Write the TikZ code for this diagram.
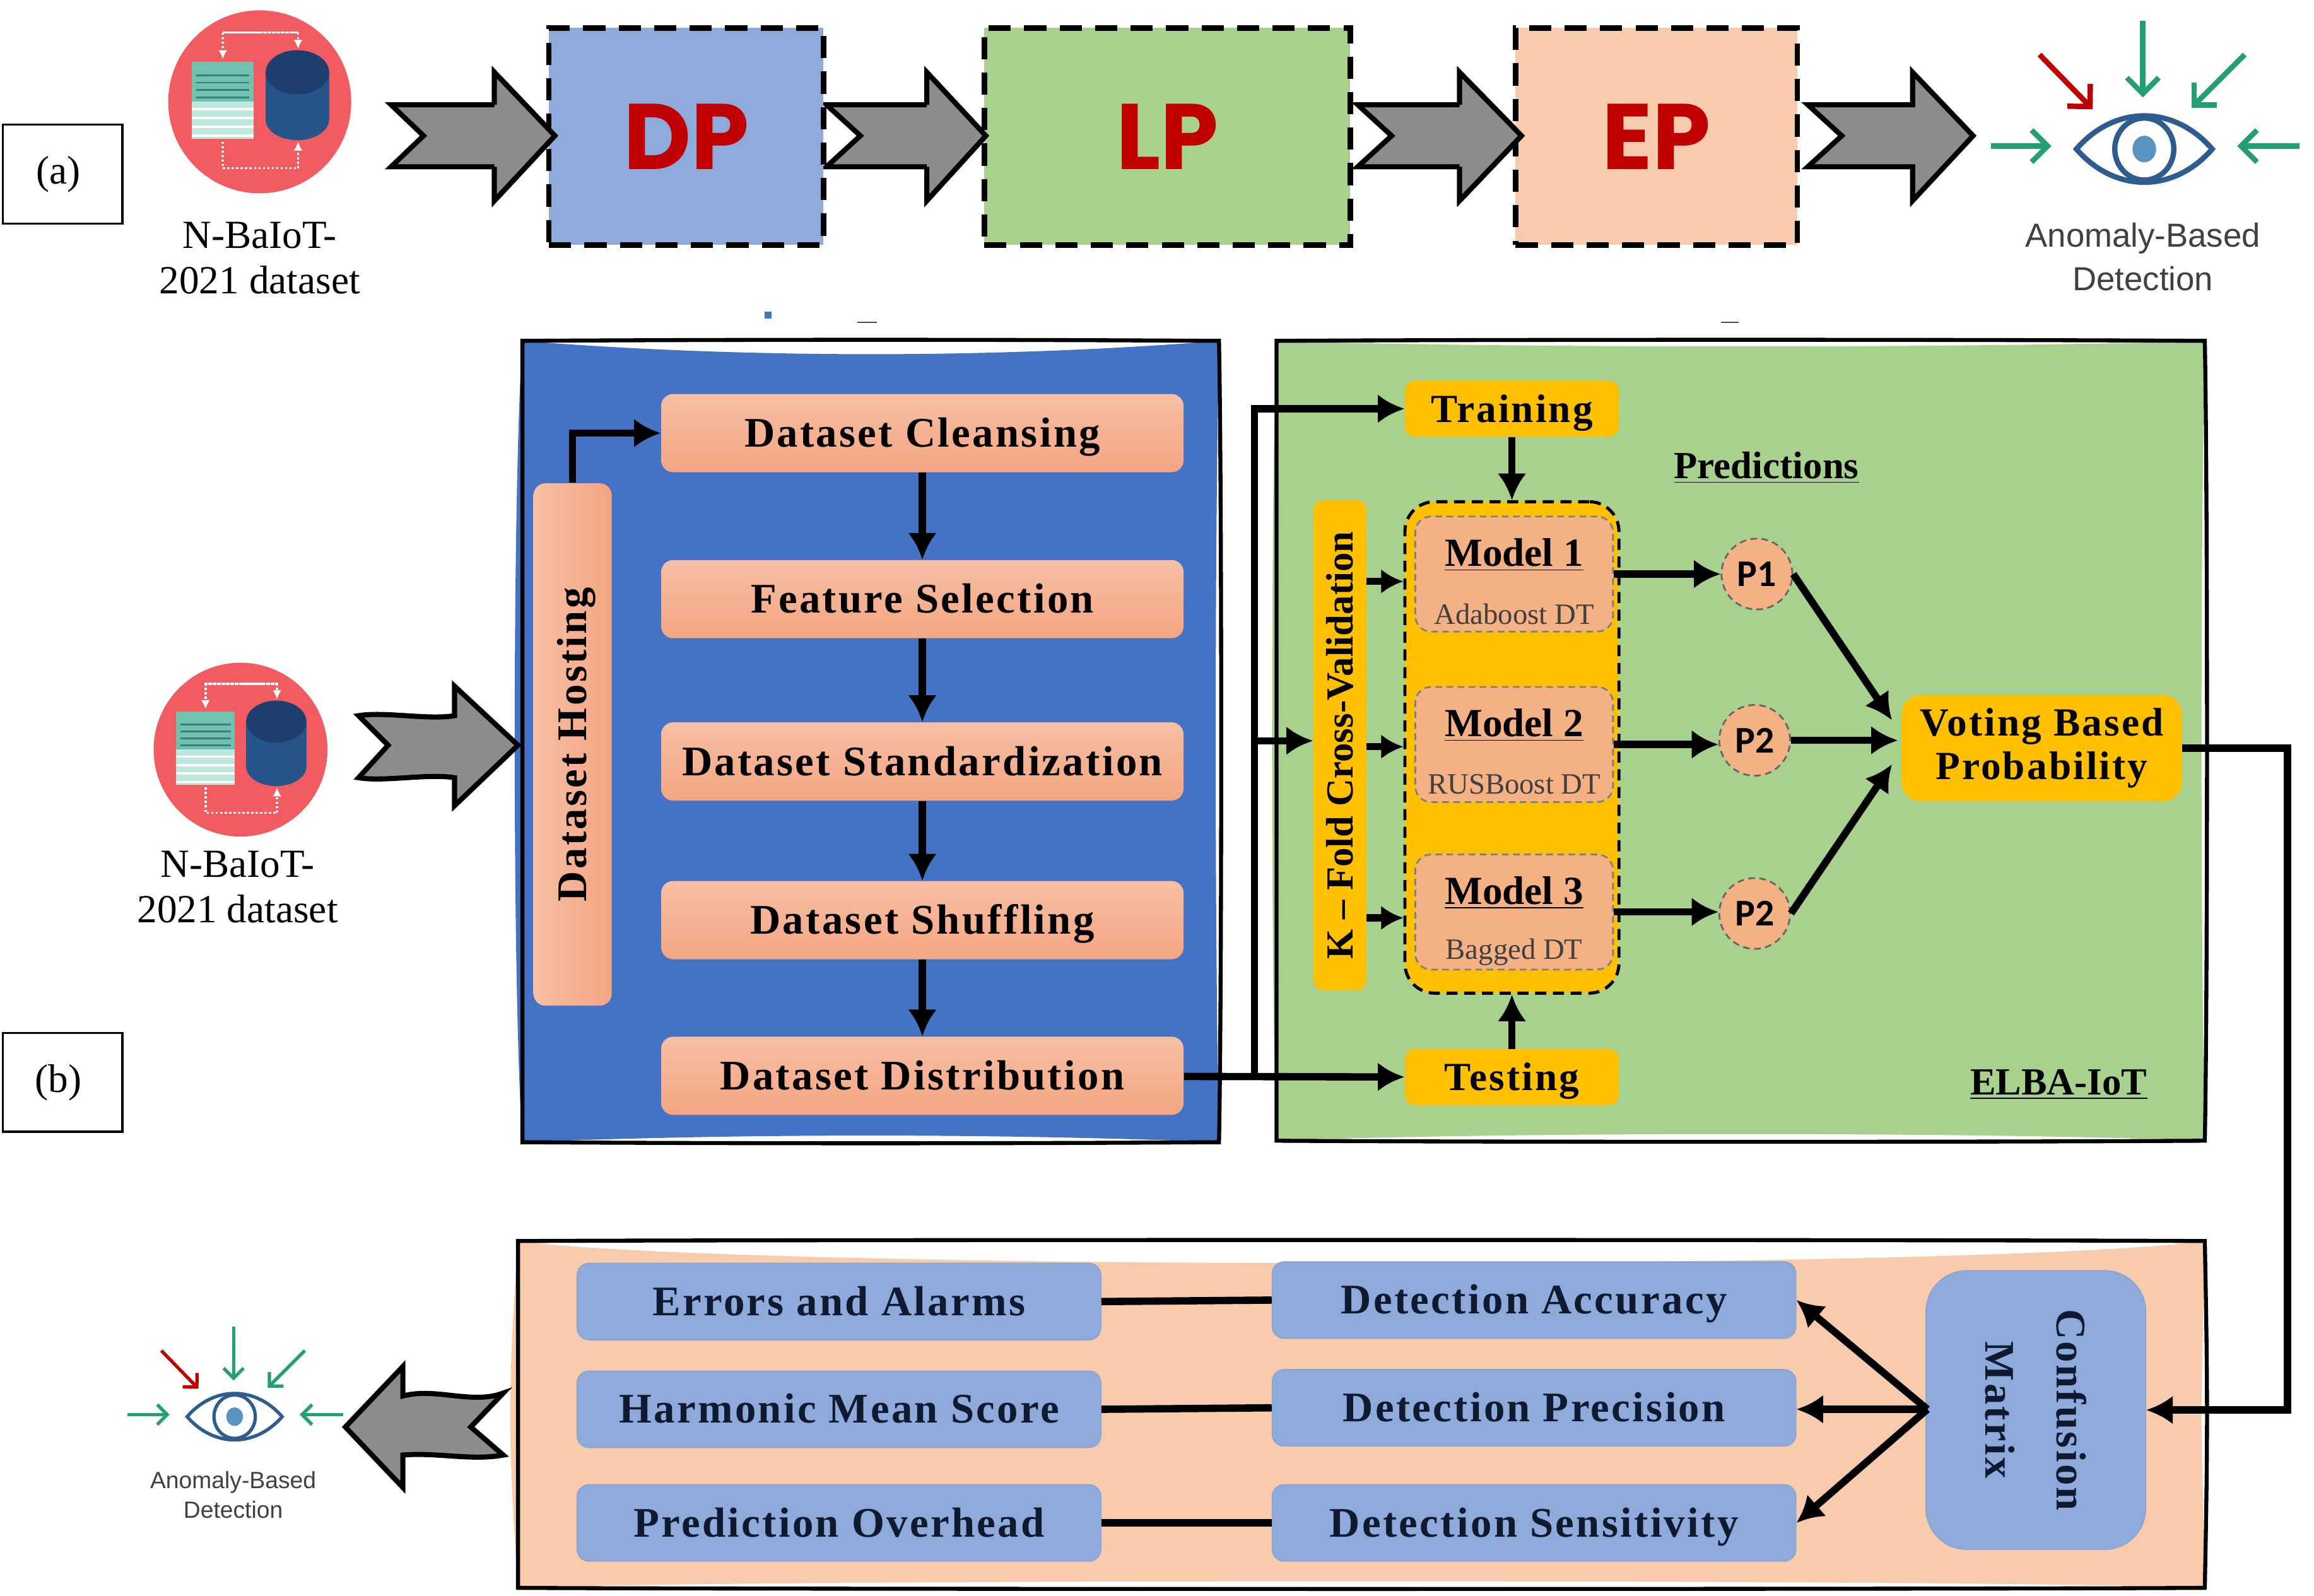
\documentclass[tikz,border=0pt]{standalone}
\usepackage{fontspec}
\usetikzlibrary{arrows.meta}
\setmainfont{Liberation Serif}
\newfontfamily\labelfont[LetterSpace=5]{Liberation Serif}
\newfontfamily\handfont{Poppins}
\newfontfamily\eyefont{Liberation Sans}
\newfontfamily\pfont{Carlito}
\newcommand{\boldlabel}{\labelfont\bfseries\fontsize{19}{21}\selectfont}
\newcommand{\smallbold}{\labelfont\bfseries\fontsize{18}{19.6}\selectfont}
\def\u{0.02339cm}
\definecolor{panelblue}{HTML}{4472C4}
\definecolor{panelgreen}{HTML}{A9D18E}
\definecolor{panelpeach}{HTML}{F8CBAD}
\definecolor{boxblue}{HTML}{8EAADB}
\definecolor{boxorange}{HTML}{FFC000}
\definecolor{boxpeach}{HTML}{F4B183}
\definecolor{lightsalmon}{HTML}{F6BFA3}
\definecolor{darksalmon}{HTML}{F4A582}
\definecolor{darkred}{HTML}{C00000}
\definecolor{eyeblue}{HTML}{2F5C8F}
\definecolor{eyepupil}{HTML}{5B93C0}
\definecolor{eyegreen}{HTML}{24A070}
\definecolor{discred}{HTML}{F25C60}
\definecolor{sheettop}{HTML}{6FC2AC}
\definecolor{sheetlow}{HTML}{BFE8DC}
\definecolor{sheetline}{HTML}{3D7A8A}
\definecolor{drum}{HTML}{24548A}
\definecolor{drumtop}{HTML}{1E3F6E}
\definecolor{navytext}{HTML}{0F1A30}
\tikzset{
	flow/.style={line width=3.3pt,-{Latex[length=12pt,width=13pt]}},
	plainflow/.style={line width=3.3pt},
	bigarrow/.style={draw=black,fill=black!45,line width=2.3pt,line join=miter},
	tag/.style={draw=black,line width=1pt,minimum width=81*\u,minimum height=67*\u,font=\fontsize{18}{20}\selectfont},
	stage/.style={draw=black,line width=2.4pt,dash pattern=on 10pt off 6pt,minimum height=147*\u,text=darkred,font=\handfont\bfseries\fontsize{42}{44}\selectfont},
	peachbox/.style={rounded corners=0.19cm,top color=lightsalmon,bottom color=darksalmon,minimum width=354*\u,minimum height=53*\u,text height=12.5pt,text depth=0pt,font=\boldlabel},
	bluebox/.style={rounded corners=0.19cm,fill=boxblue,draw=boxblue!85!gray,text=navytext,minimum width=355*\u,minimum height=52*\u,text height=12.5pt,text depth=0pt,font=\boldlabel},
	orangebox/.style={rounded corners=0.16cm,fill=boxorange,minimum width=145*\u,minimum height=38*\u,text height=12pt,text depth=0pt,font=\smallbold},
	modelbox/.style={rounded corners=0.25cm,fill=boxpeach,draw=black!50,densely dashed,line width=0.8pt,minimum width=134*\u,minimum height=78*\u},
	modelname/.style={font=\bfseries\fontsize{18}{20}\selectfont},
	modelkind/.style={text=black!75,font=\fontsize{13.3}{16}\selectfont},
	pbubble/.style={circle,fill=boxpeach,draw=black!60,densely dashed,line width=0.8pt,minimum size=48*\u,inner sep=0pt,font=\pfont\bfseries\fontsize{17}{19}\selectfont},
	under/.style={font=\bfseries\fontsize{17.3}{19}\selectfont},
	caption/.style={align=center,font=\fontsize{18}{20.5}\selectfont},
	eyecaption/.style={align=center,text=black!75,font=\eyefont\fontsize{15}{19.5}\selectfont},
	dataset/.pic={
		% red disc with sheet and drum
		\fill[discred] (0,0) circle (62);
		\draw[white,densely dotted,line width=1pt,-{Latex[length=4pt,width=4pt]}] (26,-47) -- (-25,-47) -- (-25,-29);
		\draw[white,densely dotted,line width=1pt,-{Latex[length=4pt,width=4pt]}] (-25,-47) -- (26,-47) -- (26,-36);
		\draw[white,densely dotted,line width=1pt] (-25,27) -- (-25,45) -- (26,45);
		\draw[white,densely dotted,line width=1pt,-{Latex[length=4pt,width=4pt]}] (26,45) -- (26,27);
		\fill[sheettop] (-46,-27) rectangle (-4,0);
		\fill[sheetlow] (-46,0) rectangle (-4,25);
		\foreach \y in {-18,-13,-8,-3}
			\draw[sheetline,line width=0.7pt] (-43,\y) -- (-7,\y);
		\foreach \y in {5,11,17,23}
			\draw[white,line width=1pt] (-46,\y) -- (-4,\y);
		\fill[drum] (4,-20) rectangle (47,12);
		\fill[drum] (25.5,12) ellipse (21.5 and 14);
		\fill[drumtop] (25.5,-20) ellipse (21.5 and 15);
	},
	eyeicon/.pic={
		% eye with five arrows pointing at it
		\draw[eyeblue,line width=#1pt] (-46,0) .. controls (-20,-30) and (20,-30) .. (46,0) .. controls (20,30) and (-20,30) .. (-46,0) -- cycle;
		\draw[eyeblue,line width=#1pt] (0,0) ellipse (20 and 21);
		\fill[eyepupil] (0,0) ellipse (8 and 9);
		\draw[darkred,line width=#1pt,-{Straight Barb[length=0pt 3,width=0pt 6]}] (-71,-64) -- (-35,-27);
		\foreach \sx/\sy/\ex/\ey in {-1/-87/-1/-35,68/-64/32/-28,-104/-2/-63/-2,105/-2/63/-2}
			\draw[eyegreen,line width=#1pt,-{Straight Barb[length=0pt 3,width=0pt 6]}] (\sx,\sy) -- (\ex,\ey);
	}
}
\begin{document}
\begin{tikzpicture}[x=\u,y=-\u]
\useasboundingbox (0,0) rectangle (1568,1081.5);

% draw panels behind everything
\foreach \c/\l/\t/\r/\b/\d/\e in {panelblue/354/231/826/774/12/7,panelgreen/865/231/1494/773/5/4,panelpeach/351/841/1494/1076/20/7}
{
	\fill[\c] (\l,\t) .. controls (\l+150,\t+\d) and (\r-150,\t+\d) .. (\r,\t)
		.. controls (\r-3,\t+150) and (\r-3,\b-150) .. (\r,\b)
		.. controls (\r-150,\b-6) and (\l+150,\b-6) .. (\l,\b)
		.. controls (\l-\e,\b-100) and (\l-\e,\t+100) .. (\l,\t) -- cycle;
	\draw[line width=1.8pt] (\l,\t) .. controls (\l+150,\t-1) and (\r-150,\t-1) .. (\r,\t)
		.. controls (\r+2,\t+100) and (\r+2,\b-100) .. (\r,\b)
		.. controls (\r-150,\b+1) and (\l+150,\b+1) .. (\l,\b) -- cycle;
}

% draw stray marks
\fill[panelblue] (518,211) rectangle (523,216);
\fill[black!70] (581,218) rectangle (594,219);
\fill[black!70] (1166,218) rectangle (1178,219);

% draw top row
\node[tag] (taga) at (42.5,118) {\hspace*{-4pt}\raisebox{-2pt}{(a)}};
\node[tag] (tagb) at (42.5,733.5) {\hspace*{-4pt}\raisebox{-2pt}{(b)}};
\pic at (176,69) {dataset};
\node[caption] (dataa) at (176,175) {N-BaIoT-\\2021 dataset};
\foreach \x/\n/\s/\t in {265/287/335/376,560/583/628/668,920/943/989/1031,1225/1248/1296/1337}
{
	\draw[bigarrow] (\x,71) -- (\s,71) -- (\s,49) -- (\t,92) -- (\s,136) -- (\s,113) -- (\x,113) -- (\n,92) -- cycle;
}
\node[stage,fill=boxblue,minimum width=186*\u] (dp) at (465,92.5) {DP};
\node[stage,fill=panelgreen,minimum width=248*\u] (lp) at (791,92.5) {LP};
\node[stage,fill=panelpeach,minimum width=191*\u] (ep) at (1122.5,92.5) {EP};
\foreach \x/\s/\t in {265/335/376,560/628/668,920/989/1031}
{
	\draw[bigarrow] (\s,71) -- (\s,49) -- (\t,92) -- (\s,136) -- (\s,113);
}
\pic at (1453,101) {eyeicon=2.4};
\node[eyecaption] (eyea) at (1452,174) {Anomaly-Based\\Detection};

% draw preparation panel
\pic[scale=0.95] at (163,508) {dataset};
\node[caption] (datab) at (161,601) {N-BaIoT-\\2021 dataset};
\draw[bigarrow] (243,485) .. controls (260,482) and (290,488) .. (308,485) -- (308,465) -- (351,505) -- (308,546) -- (308,527) .. controls (290,524) and (260,530) .. (243,527) -- (263,505) -- cycle;
\node[peachbox,rotate=90,left color=lightsalmon,right color=darksalmon] (hosting) at (388,504.5) {Dataset Hosting};
\foreach \name/\y/\txt in {clean/293.5/Dataset Cleansing,feature/406/Feature Selection,standard/516/Dataset Standardization,shuffle/623.5/Dataset Shuffling,distribution/729/Dataset Distribution}
{
	\node[peachbox] (\name) at (625,\y) {\txt};
}
\draw[flow] (hosting.east) |- (clean.west);
\foreach \a/\b in {clean/feature,feature/standard,standard/shuffle,shuffle/distribution}
{
	\draw[flow] (\a) -- (\b);
}

% draw ensemble panel
\node[orangebox] (training) at (1024.5,277) {Training};
\node[orangebox] (testing) at (1024.5,730) {Testing};
\node[under] (predictions) at (1197,317) {\underline{Predictions}};
\node[under] (elba) at (1395,735) {\underline{ELBA-IoT}};
\node[rounded corners=0.16cm,fill=boxorange,rotate=90,minimum width=332*\u,minimum height=36*\u,font=\bfseries\fontsize{17.3}{19}\selectfont] (kfold) at (908,505) {K – Fold Cross-Validation};
\node[rounded corners=0.47cm,fill=boxorange,draw=black,line width=1.4pt,dash pattern=on 5pt off 3pt,minimum width=145*\u,minimum height=333*\u] (group) at (1024.5,506.5) {};
\foreach[count=\i] \y/\txt in {389/Adaboost DT,504.5/RUSBoost DT,618/Bagged DT}
{
	\node[modelbox] (model\i) at (1026,\y) {};
	\node[modelname] (name\i) at (1026,\y-13) {\underline{Model \i}};
	\node[modelkind] (kind\i) at (1026,\y+27) {\txt};
}
\node[pbubble] (p1) at (1190.5,389) {P1};
\node[pbubble] (p2) at (1189,501.7) {P2};
\node[pbubble] (p3) at (1189,619) {P2};
\node[rounded corners=0.3cm,fill=boxorange,minimum width=190*\u,minimum height=72*\u,align=center,font=\smallbold] (voting) at (1383.5,507) {Voting Based\\Probability};

% draw arrows of ensemble panel
\coordinate (split) at (850,729);
\coordinate (splitmid) at (850,502);
\draw[flow] (distribution) -- (testing);
\draw[flow] (split) |- (training.west);
\draw[flow] (splitmid) -- (kfold.north |- splitmid);
\draw[flow] (training) -- (group.north);
\draw[flow] (testing) -- (group.south);
\foreach \i/\y in {1/394,2/506,3/622}
{
	\coordinate (kin\i) at (926,\y);
	\draw[line width=3.3pt,-{Latex[length=10pt,width=11pt]}] (kin\i) -- (group.west |- kin\i);
}
\foreach \i in {1,2,3}
{
	\draw[flow] (model\i.east) -- (p\i.west |- model\i.east);
}
\coordinate (votetop) at (1282,488);
\coordinate (votemid) at (1286,501.7);
\coordinate (votelow) at (1282,518);
\draw[flow] (p1.east) -- (votetop);
\draw[flow] (p2.east) -- (votemid);
\draw[flow] (p3.east) -- (votelow);

% draw evaluation panel
\foreach \name/\y/\txt in {errors/882/Errors and Alarms,harmonic/955/Harmonic Mean Score,overhead/1032/Prediction Overhead}
{
	\node[bluebox] (\name) at (568.5,\y) {\txt};
}
\foreach \name/\y/\txt in {accuracy/881/Detection Accuracy,precision/954/Detection Precision,sensitivity/1032/Detection Sensitivity}
{
	\node[bluebox] (\name) at (1039.5,\y) {\txt};
}
\foreach \a/\b in {errors/accuracy,harmonic/precision,overhead/sensitivity}
{
	\draw[plainflow] (\a.east) -- (\b.west);
}
\node[rounded corners=0.65cm,fill=boxblue,draw=boxblue!85!gray,text=navytext,rotate=-90,minimum width=189*\u,minimum height=149*\u,align=center,font=\boldlabel] (confusion) at (1379.5,955.5) {Confusion\\[11pt]Matrix};
\coordinate (bendvote) at (1550,955.5);
\draw[flow] (voting.east) -| (bendvote) -- (confusion.north);
\coordinate (confout) at (1306,955);
\draw[flow] (confout) -- (accuracy.east);
\draw[flow] (confout) -- (precision.east |- confout);
\draw[flow] (confout) -- (sensitivity.east);
\draw[bigarrow] (341,944) .. controls (320,952) and (295,940) .. (273,946) -- (273,926) -- (234,967) -- (273,1008) -- (273,986) .. controls (295,984) and (320,990) .. (341,986) -- (319,967) -- cycle;
\pic[scale=0.7] at (159,960) {eyeicon=1.5};
\node[eyecaption,font=\eyefont\fontsize{10.6}{13.5}\selectfont] (eyeb) at (158,1013) {Anomaly-Based\\Detection};
\end{tikzpicture}
\end{document}
